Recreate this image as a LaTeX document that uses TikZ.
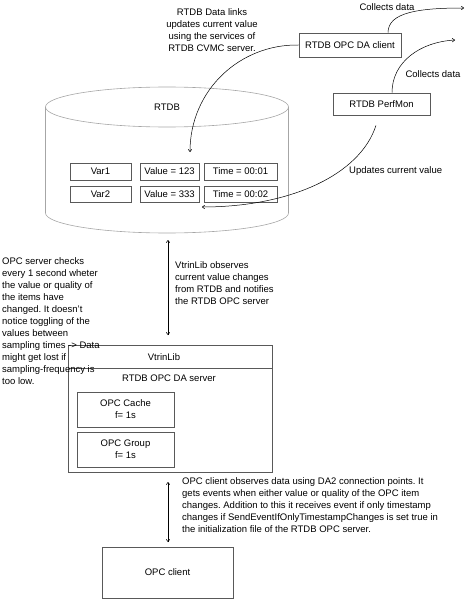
\documentclass[tikz,border=0pt]{standalone}
\usepackage{fontspec}
\setmainfont{Liberation Sans}
\usetikzlibrary{arrows.meta}
\frenchspacing
\begin{document}
\begin{tikzpicture}[x=1pt,y=-1pt,
  every node/.style={font=\fontsize{9.5}{12}\selectfont, inner sep=0pt},
  box/.style={draw=black!65, line width=0.7pt},
  cyl/.style={draw=black!35, line width=0.6pt},
  conn/.style={-{To[length=3pt,width=4pt]}, line width=0.5pt},
  dconn/.style={{To[length=3pt,width=4pt]}-{To[length=3pt,width=4pt]}, line width=0.5pt},
  txt/.style={align=left, anchor=north west},
  ctxt/.style={align=center}]
\useasboundingbox (0,0) rectangle (466,599);

% cylinder RTDB
\draw[cyl] (167,107) ellipse [x radius=121.5, y radius=20];
\draw[cyl] (45.5,107) -- (45.5,213) arc[start angle=180, end angle=0, x radius=121.5, y radius=20] -- (288.5,107);
\node (rtdb) at (167,107) {RTDB};

% variables
\node[box, minimum width=61pt, minimum height=17pt] (var1) at (100.5,171.5) {Var1};
\node[box, minimum width=59pt, minimum height=17pt] (val1) at (169.5,171.5) {Value = 123};
\node[box, minimum width=73pt, minimum height=17pt] (time1) at (240.5,171.5) {Time = 00:01};
\node[box, minimum width=61pt, minimum height=16pt] (var2) at (100.5,194) {Var2};
\node[box, minimum width=59pt, minimum height=16pt] (val2) at (169.5,194) {Value = 333};
\node[box, minimum width=73pt, minimum height=16pt] (time2) at (240.5,194) {Time = 00:02};

% clients
\node[box, minimum width=102pt, minimum height=24pt] (opcda) at (350,45) {RTDB OPC DA client};
\node[box, minimum width=97pt, minimum height=22pt] (perfmon) at (381.5,104) {RTDB PerfMon};

\node[ctxt] (t1) at (212,30) {RTDB Data links\\updates current value\\using the services of\\RTDB CVMC server.};
\node (cd1) at (387,7) {Collects data};
\node (cd2) at (433,74) {Collects data};
\node[anchor=west] (upd) at (349,171) {Updates current value};

\coordinate (in1) at (190,152);
\coordinate (in2) at (202,207);
\coordinate (out1) at (464,8);
\coordinate (out2) at (455,40);

\draw[conn] (opcda.west) .. controls (240,44) and (190,90) .. (in1);
\draw[conn] ([xshift=-5.5pt,yshift=-10pt]perfmon.south) .. controls (360,175) and (290,207) .. (in2);
\draw[conn] ([xshift=38pt]opcda.north) .. controls (388,12) and (420,8) .. (out1);
\draw[conn] ([xshift=10.5pt]perfmon.north) .. controls (392,62) and (420,42) .. (out2);

% VtrinLib / server
\node[box, minimum width=204pt, minimum height=127pt] (server) at (170,408.5) {};
\draw[box] (server.west |- 0,368) -- (server.east |- 0,368);
\node (vtrin) at (164,357) {VtrinLib};
\node (srv) at (169,378) {RTDB OPC DA server};
\node[box, minimum width=97pt, minimum height=35pt, ctxt] (cache) at (125.5,409.5) {OPC Cache\\f= 1s};
\node[box, minimum width=97pt, minimum height=35pt, ctxt] (group) at (125.5,449.5) {OPC Group\\f= 1s};

\coordinate (a1) at (168,240);
\coordinate (a2) at (168,335);
\draw[dconn] (a1) -- (a2);
\node[txt] (t2) at (175,261) {VtrinLib observes\\current value changes\\from RTDB and notifies\\the RTDB OPC server};

\node[txt] (t3) at (2,257.5) {OPC server checks\\every 1 second wheter\\the value or quality of\\the items have\\changed. It doesn’t\\notice toggling of the\\values between\\sampling times -> Data\\might get lost if\\sampling-frequency is\\too low.};

% OPC client
\node[box, minimum width=131pt, minimum height=51pt] (client) at (167.5,572.5) {OPC client};
\coordinate (b1) at (168,482);
\coordinate (b2) at (168,542);
\draw[dconn] (b1) -- (b2);
\node[txt] (t4) at (182,477) {OPC client observes data using DA2 connection points. It\\gets events when either value or quality of the OPC item\\changes. Addition to this it receives event if only timestamp\\changes if SendEventIfOnlyTimestampChanges is set true in\\the initialization file of the RTDB OPC server.};
\end{tikzpicture}
\end{document}
